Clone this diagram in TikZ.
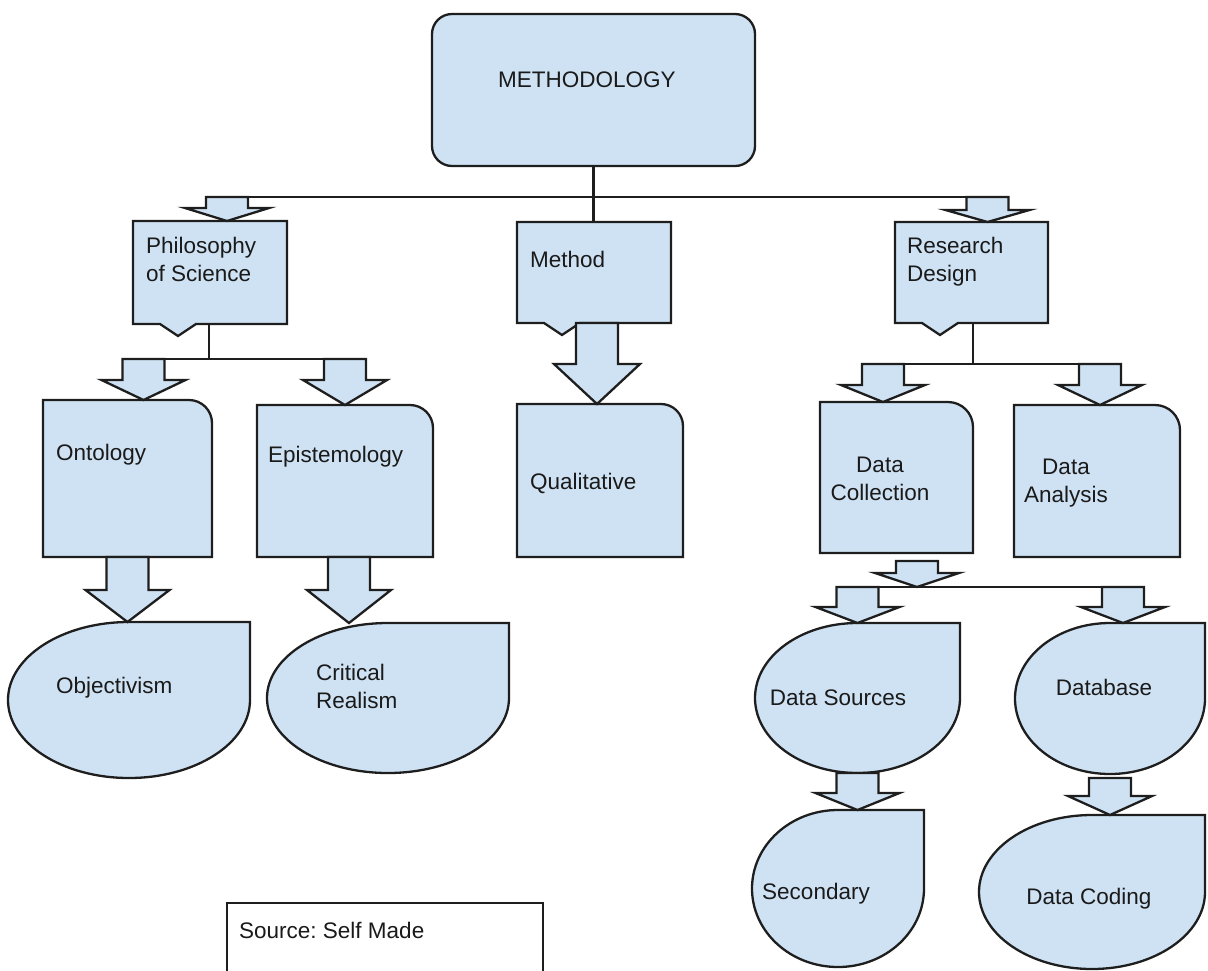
\documentclass[tikz,border=0pt]{standalone}
\usepackage{fontspec}
\setmainfont{Liberation Sans}
\usetikzlibrary{calc,fit}
\frenchspacing

\definecolor{boxfill}{HTML}{CFE2F3}
\definecolor{edge}{HTML}{1E1E1E}
\definecolor{ink}{HTML}{1A1A1A}

\tikzset{
  shapeline/.style={draw=edge, line width=2.3pt, fill=boxfill, line join=miter},
  frame/.style={inner sep=0pt, outer sep=0pt, draw=none, rectangle},
  bus/.style={draw=edge, line width=2.3pt},
  lbl/.style={inner sep=0pt, anchor=base west, align=left, text=ink,
              font=\fontsize{22.5}{27.5}\selectfont},
  clbl/.style={inner sep=0pt, anchor=base, align=center, text=ink,
              font=\fontsize{22.5}{27.5}\selectfont},
}

% rectangle with a V-shaped pointer on its lower edge
\newcommand\calloutpath[1]{%
  \path[shapeline] (#1.south west) -- (#1.north west) -- (#1.north east) -- (#1.south east)
    -- ($(#1.south west)+(63,0)$) -- ($(#1.south west)+(45,-12)$)
    -- ($(#1.south west)+(27,0)$) -- cycle;}

% rectangle with a rounded upper-right corner
\newcommand\foldpath[2]{%
  \path[shapeline] (#1.south west) -- (#1.north west) -- ($(#1.north east)+(-#2,0)$)
    arc[start angle=90, end angle=0, radius=#2] -- (#1.south east) -- cycle;}

% ellipse with a square upper-right corner
\newcommand\droppath[1]{%
  \path[shapeline] let \p1=(#1.north east), \p2=(#1.center) in
    (#1.north) -- (#1.north east) -- (#1.east)
    arc[start angle=0, end angle=-270, x radius=\x1-\x2, y radius=\y1-\y2] -- cycle;}

% downward block arrow: top, tip, head length, half width of the head
\newcommand\blockarrow[4]{%
  \path[shapeline] let \p1=#1, \p2=#2 in
    (\x1-21pt,\y1) -- (\x1+21pt,\y1) -- (\x1+21pt,\y2+#3) -- (\x1+#4,\y2+#3)
    -- (\x2,\y2) -- (\x1-#4,\y2+#3) -- (\x1-21pt,\y2+#3) -- cycle;}

\begin{document}
\begin{tikzpicture}[x=1pt, y=1pt]
\useasboundingbox (0,0) rectangle (1208,-970);

% ---- frames of the shapes
\node[frame, fit={(432,-14) (755,-166)}]  (meth) {};
\node[frame, fit={(133,-221) (287,-324)}] (phil) {};
\node[frame, fit={(517,-222) (671,-323)}] (method) {};
\node[frame, fit={(895,-222) (1048,-323)}] (rd) {};
\node[frame, fit={(43,-400) (212,-557)}]  (ont) {};
\node[frame, fit={(257,-405) (433,-557)}] (epi) {};
\node[frame, fit={(517,-404) (683,-557)}] (qual) {};
\node[frame, fit={(820,-402) (973,-553)}] (dc) {};
\node[frame, fit={(1014,-405) (1180,-557)}] (da) {};
\node[frame, fit={(8,-622) (250,-778)}]   (obj) {};
\node[frame, fit={(267,-623) (509,-773)}] (cr) {};
\node[frame, fit={(755,-623) (960,-773)}] (ds) {};
\node[frame, fit={(1015,-623) (1205,-774)}] (db) {};
\node[frame, fit={(752,-810) (924,-967)}] (sec) {};
\node[frame, fit={(979,-815) (1205,-969)}] (dcod) {};
\node[frame, fit={(227,-903) (543,-985)}] (src) {};

% ---- outlines
\path[shapeline, rounded corners=20pt] (meth.south west) rectangle (meth.north east);
\calloutpath{phil}
\calloutpath{method}
\calloutpath{rd}
\foldpath{ont}{23pt}
\foldpath{epi}{23pt}
\foldpath{qual}{22pt}
\foldpath{dc}{25pt}
\foldpath{da}{25pt}
\droppath{obj}
\droppath{cr}
\droppath{ds}
\droppath{db}
\droppath{sec}
\droppath{dcod}
\draw[edge, line width=2.3pt, fill=white] (src.south west) rectangle (src.north east);

% ---- first level: methodology to its three branches
\coordinate (topbus) at ($(meth.south)+(0,-31)$);
\coordinate (pa) at ($(phil.north)+(17,0)$);
\coordinate (ra) at ($(rd.north)+(16,0)$);
\draw[bus] (meth.south) -- (meth.south |- method.north);
\draw[bus] (pa |- topbus) -- (ra |- topbus);
\blockarrow{(pa |- topbus)}{(pa)}{13pt}{42pt}
\blockarrow{(ra |- topbus)}{(ra)}{12pt}{42pt}

% ---- philosophy of science
\coordinate (pdrop) at ($(phil.south west)+(76,0)$);
\coordinate (pbus) at ($(pdrop)+(0,-35)$);
\coordinate (oa) at ($(ont.north)+(16,0)$);
\coordinate (ea) at (epi.north);
\draw[bus] (pdrop) -- (pbus);
\draw[bus] (oa |- pbus) -- (ea |- pbus);
\blockarrow{(oa |- pbus)}{(oa)}{20pt}{42pt}
\blockarrow{(ea |- pbus)}{(ea)}{25pt}{42pt}
\blockarrow{(ont.south)}{(ont.south |- obj.north)}{32pt}{42pt}
\coordinate (eb) at ($(epi.south)+(4,0)$);
\blockarrow{(eb)}{(eb |- cr.north)}{33pt}{42pt}

% ---- method
\coordinate (mb) at ($(method.south)+(3,0)$);
\blockarrow{(mb)}{(mb |- qual.north)}{40pt}{43pt}

% ---- research design
\coordinate (rbus) at ($(rd.south)+(1.5,-41)$);
\coordinate (dca) at ($(dc.north)+(-13.5,0)$);
\coordinate (daa) at ($(da.north)+(3,0)$);
\draw[bus] ($(rd.south)+(1.5,0)$) -- (rbus);
\draw[bus] (dca |- rbus) -- (daa |- rbus);
\blockarrow{(dca |- rbus)}{(dca)}{17pt}{42pt}
\blockarrow{(daa |- rbus)}{(daa)}{20pt}{42pt}

% ---- data collection
\coordinate (dcbus) at ($(dc.south)+(20.5,-34)$);
\coordinate (dba) at ($(db.north)+(13,0)$);
\draw[bus] (ds.north |- dcbus) -- (dba |- dcbus);
\blockarrow{($(dc.south)+(20.5,-8)$)}{(dcbus)}{14pt}{42pt}
\blockarrow{(ds.north |- dcbus)}{(ds.north)}{16pt}{42pt}
\blockarrow{(dba |- dcbus)}{(dba)}{16pt}{42pt}
\blockarrow{(ds.south)}{(ds.south |- sec.north)}{17pt}{42pt}
\coordinate (dbb) at ($(db.south)+(0,-4)$);
\blockarrow{(dbb)}{(dbb |- dcod.north)}{19pt}{42pt}

% ---- labels (multi-line labels are placed by their last baseline)
\node[lbl] (methT) at (498,-87) {METHODOLOGY};
\node[lbl] (philT) at (146,-281) {Philosophy\\of Science};
\node[lbl] (methodT) at (530,-267) {Method};
\node[lbl] (rdT) at (907,-281) {Research\\Design};
\node[lbl] (ontT) at (56,-460) {Ontology};
\node[lbl] (epiT) at (268,-462) {Epistemology};
\node[lbl] (qualT) at (530,-489) {Qualitative};
\node[clbl] (dcT) at (880,-500) {Data\\Collection};
\node[clbl] (daT) at (1066,-502) {Data\\Analysis};
\node[lbl] (objT) at (56,-693) {Objectivism};
\node[lbl] (crT) at (316,-708) {Critical\\Realism};
\node[clbl] (dsT) at (838,-705) {Data Sources};
\node[clbl] (dbT) at (1104,-695) {Database};
\node[clbl] (secT) at (816,-899) {Secondary};
\node[clbl] (dcodT) at (1089,-904) {Data Coding};
\node[lbl] (srcT) at (239,-938) {Source: Self Made};
\end{tikzpicture}
\end{document}
